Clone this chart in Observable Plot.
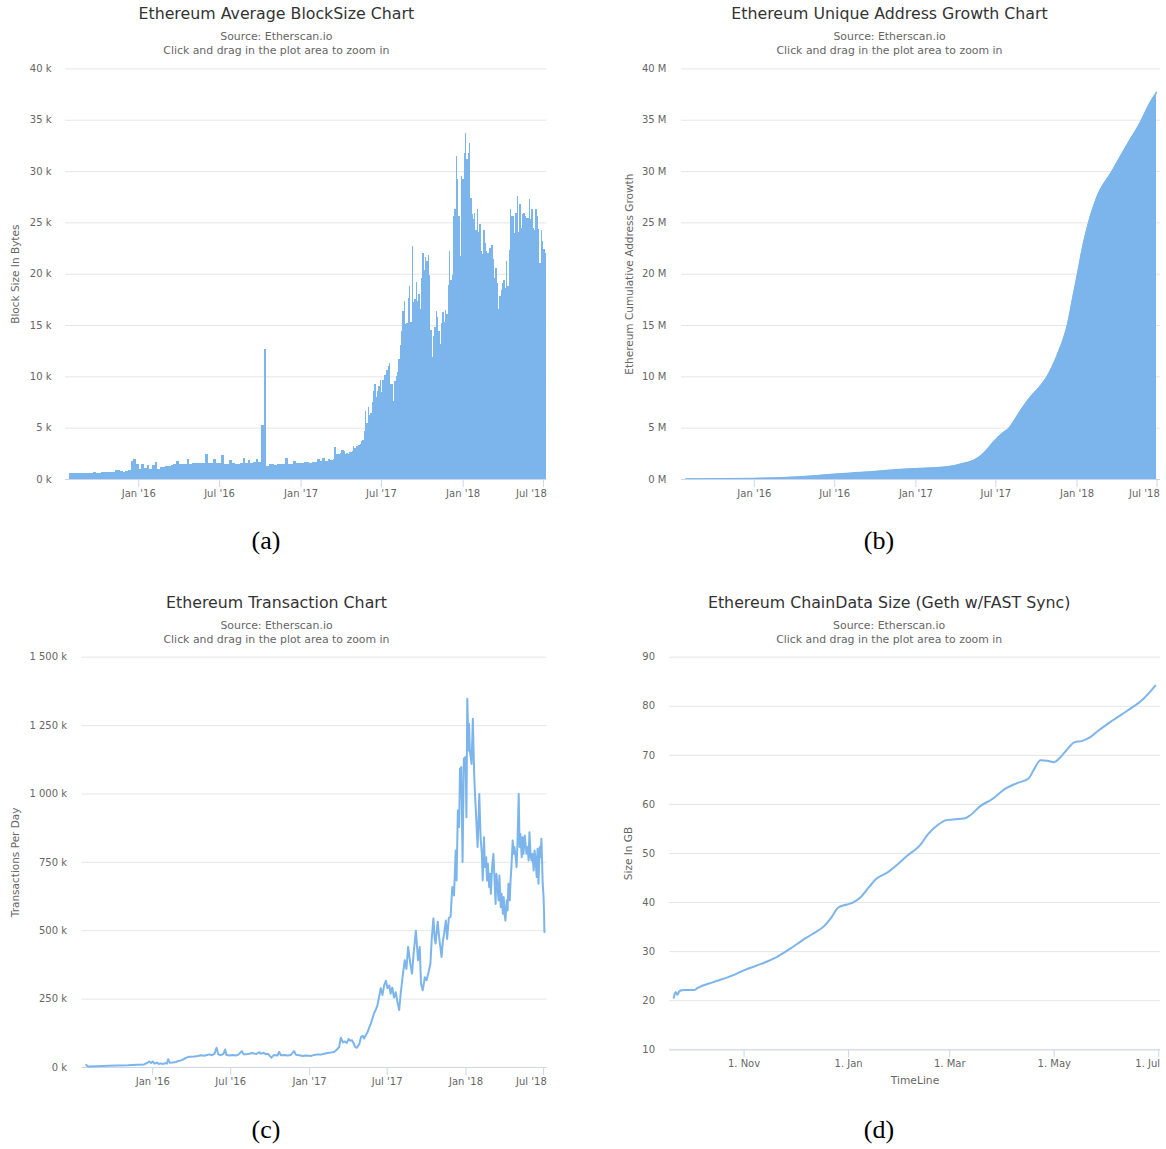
<!DOCTYPE html>
<html><head><meta charset="utf-8">
<script src="https://cdn.jsdelivr.net/npm/d3@7"></script>
<script src="https://cdn.jsdelivr.net/npm/@observablehq/plot@0.6"></script>
<style>
html,body{margin:0;padding:0;background:#fff}
body{width:1166px;height:1149px;position:relative;overflow:hidden;font-family:"DejaVu Sans",sans-serif}
.abs{position:absolute;transform:translate(-50%,-50%);white-space:nowrap;line-height:1}
.ttl{color:#333;font-size:15.8px}
.sub{color:#666;font-size:10.9px}
.cap{font-family:"Liberation Serif",serif;font-size:26px;color:#000}
.panel{position:absolute}
.panel svg{overflow:hidden}
</style></head><body>
<script>
// ---------- data ----------
// (a) average block size, k bytes; early part 6-day bars from 2015-07-30, late part 3-day bars from 2017-03-09
const blockEarlyStart = "2015-07-30", blockEarlyStep = 6;
const blockEarly = [
0.59,0.59,0.62,0.62,0.62,0.62,0.63,0.63,0.63,0.72,
0.62,0.62,0.72,0.72,0.72,0.72,0.73,0.9,0.85,0.75,
0.72,0.78,0.85,1.75,1.95,1.45,0.95,1.5,1.05,1.4,
0.95,1.4,1.7,1.0,1.2,1.15,1.3,1.3,1.35,1.5,
1.76,1.5,1.45,1.45,1.9,1.5,1.55,1.6,1.6,1.55,
1.6,2.4,1.55,1.6,1.95,1.55,1.6,2.3,1.45,1.5,
1.85,1.55,1.5,1.5,1.55,2.0,1.6,1.85,1.6,1.65,
1.95,1.65,5.3,12.7,1.27,1.5,1.5,1.4,1.45,1.5,
1.45,2.0,1.5,1.5,1.8,1.55,1.6,1.6,1.65,1.65,
1.6,1.65,1.7,1.9,1.75,2.0,1.75,1.95];
const blockLateStart = "2017-03-09", blockLateStep = 3;
const blockLate = [
1.86,1.86,1.9,3.1,2.45,2.45,2.4,2.5,2.84,2.8,
2.7,2.45,2.5,2.4,2.6,2.6,2.7,3.2,3.0,3.26,
3.2,3.3,3.4,3.75,3.8,4.7,6.6,5.5,7.0,6.2,
6.4,7.5,8.6,9.3,8.0,8.6,9.1,9.6,8.5,9.6,
10.1,10.1,10.6,11.0,11.3,9.3,9.3,7.6,9.5,10.0,
10.4,11.7,13.1,14.4,16.4,17.3,15.1,15.2,17.6,18.8,
15.3,22.7,17.2,17.5,19.2,17.3,18.0,16.6,19.6,22.0,
20.4,21.6,21.2,21.8,19.9,14.5,11.9,13.9,14.8,16.4,
15.8,14.4,13.2,15.2,16.3,15.3,16.5,16.1,18.9,22.2,
19.4,19.9,25.6,26.3,31.5,29.2,25.6,21.7,29.5,29.2,
31.8,33.7,31.2,31.8,32.7,27.4,25.8,25.3,25.9,24.3,
26.3,24.1,24.8,22.2,21.9,24.3,23.0,22.2,22.0,22.5,
22.5,22.8,21.4,19.6,20.6,19.1,16.6,17.8,18.4,19.1,
19.4,18.6,21.2,18.8,22.3,26.3,25.6,25.6,24.0,25.9,
27.6,24.1,26.8,24.5,25.8,25.9,25.6,25.4,25.4,27.3,
25.3,26.3,24.5,24.3,26.3,25.6,24.4,21.0,24.3,23.2,
22.4,22.0];
const blockTicks = [0,5,10,15,20,25,30,35,40];

// (b) cumulative unique addresses, millions: [days after 2015-07-30, value]
const addrBase = "2015-07-30";
const addrSeries = [[0,0.05],[155,0.1],[230,0.2],[289,0.35],[337,0.5],[373,0.62],[423,0.75],[449,0.85],
[518,1.05],[583,1.2],[608,1.35],[633,1.6],[654,1.9],[671,2.4],[684,3.0],[700,3.8],[717,4.5],[732,5.0],
[742,5.6],[755,6.5],[776,7.8],[801,9.0],[818,10.0],[843,12.3],[856,13.8],[864,15],[875,17.4],[887,20],
[899,22.7],[912,25],[931,27.5],[965,30],[998,32.5],[1032,35],[1049,36.5],[1066,37.7]];
const addrTicks = [0,5,10,15,20,25,30,35,40];

// (c) transactions per day, thousands: [days after 2015-07-30, value]
const txBase = "2015-07-30";
const txSeries = [[0,10],[3,4],[27,5],[50,6],[73,7],[97,8],[120,10],[135,11],[143,18],[147,22],[151,16],[155,22],
[159,14],[165,18],[169,13],[174,15],[180,13],[184,16],[188,14],[191,30],[195,17],[202,18],[209,20],[215,24],
[221,26],[227,30],[233,36],[240,39],[252,40],[260,42],[268,45],[275,43],[282,46],[287,48],[293,45],[299,50],
[304,72],[308,48],[314,45],[320,50],[324,66],[327,46],[334,44],[341,46],[349,44],[355,47],[363,60],[367,48],
[372,48],[380,50],[388,53],[396,49],[404,56],[407,50],[414,54],[419,48],[424,50],[432,36],[438,46],[446,44],
[450,57],[454,45],[462,46],[470,44],[477,46],[485,60],[489,47],[497,45],[505,42],[512,44],[524,42],[532,46],
[540,48],[547,47],[555,50],[563,53],[571,55],[578,57],[585,66],[590,75],[594,109],[599,92],[603,95],[608,90],
[612,104],[616,98],[620,100],[624,88],[627,76],[631,72],[637,85],[641,112],[645,116],[648,106],[652,118],
[656,128],[660,146],[664,160],[668,182],[672,200],[676,213],[679,225],[683,256],[687,290],[691,265],[695,300],
[699,317],[703,290],[707,300],[710,270],[714,292],[718,256],[722,275],[726,240],[730,210],[734,276],[738,330],
[743,392],[747,360],[751,441],[756,380],[760,343],[764,420],[769,500],[774,392],[778,441],[781,307],[785,282],
[790,330],[794,319],[799,350],[803,380],[806,470],[810,545],[813,470],[815,453],[820,533],[823,480],[829,404],
[832,460],[835,490],[839,537],[842,470],[846,548],[850,550],[854,660],[858,629],[862,793],[864,684],[867,940],
[870,879],[872,1092],[875,1098],[878,751],[881,1129],[885,1135],[887,915],[889,1348],[892,1159],[893,1257],
[895,1159],[899,1110],[902,1275],[905,1074],[907,1000],[909,940],[913,806],[915,891],[917,1000],[920,842],
[923,781],[925,684],[928,842],[930,733],[933,769],[935,684],[937,745],[940,660],[942,708],[944,635],[947,733],
[950,781],[952,708],[955,598],[957,708],[959,672],[962,611],[964,702],[967,586],[969,635],[972,562],[974,623],
[976,562],[978,537],[981,611],[983,574],[985,672],[988,611],[990,684],[992,733],[995,830],[997,781],[999,806],
[1002,769],[1004,733],[1006,818],[1009,1000],[1011,806],[1013,854],[1016,769],[1018,842],[1020,781],[1023,848],
[1025,818],[1027,781],[1030,806],[1032,757],[1034,860],[1037,769],[1039,757],[1041,781],[1044,720],[1046,793],
[1048,769],[1051,696],[1053,800],[1055,672],[1058,806],[1060,769],[1062,836],[1065,672],[1067,623],[1068,574],[1069,495]];
const txTicks = [0,250,500,750,1000,1250,1500];

// (d) chain data size, GB: [days after 2017-11-01, value]
const chainBase = "2017-11-01";
const chainSeries = [[-41,20.6],[-40,21.8],[-39,21.2],[-38,21.8],[-37,22.1],[-35,22.2],[-29,22.2],[-27,22.6],
[-18,23.8],[-7,25.1],[0,26.2],[10,27.5],[19,28.9],[27,30.6],[34,32.3],[40,33.6],[47,35.3],[51,37.0],[55,39.0],
[60,39.6],[64,40.1],[68,41.1],[73,43.2],[77,44.8],[84,46.2],[90,47.9],[95,49.5],[103,51.8],[107,53.8],[113,55.8],
[118,56.8],[129,57.2],[132,57.8],[138,59.7],[144,60.9],[153,63.3],[159,64.3],[166,65.3],[169,67.0],[173,69.0],
[177,68.9],[181,68.6],[184,69.4],[188,71.0],[193,72.7],[197,72.9],[202,73.7],[207,75.1],[215,77.1],[224,79.2],
[233,81.5],[240,84.2]];
const chainTicks = [10,20,30,40,50,60,70,80,90];

// x tick labels
const yearTickDates = ["2016-01-01","2016-07-01","2017-01-01","2017-07-01","2018-01-01","2018-07-01"];
const yearTickLabels = ["Jan '16","Jul '16","Jan '17","Jul '17","Jan '18","Jul '18"];
const chainTickDates = ["2017-11-01","2018-01-01","2018-03-01","2018-05-01","2018-07-01"];
const chainTickLabels = ["1. Nov","1. Jan","1. Mar","1. May","1. Jul"];

// ---------- helpers ----------
const parse = s => new Date(s + "T00:00:00Z");
const addDays = (base, n) => new Date(parse(base).getTime() + n * 864e5);
const BLUE = "#7cb5ec", GRID = "#e6e6e6", AXIS = "#ccd6eb", LAB = "#666";
const fontStyle = {fontFamily: '"DejaVu Sans", sans-serif', fontSize: "10px", background: "white", overflow: "hidden"};

function xAxisMarks(dates, labels, dxLast) {
  const ds = dates.map(parse);
  const lab = new Map(ds.map((d, i) => [+d, labels[i]]));
  const last = ds[ds.length - 1];
  return [
    Plot.axisX(ds, {tickSize: 8, tickPadding: 2, stroke: AXIS, fill: LAB, fontSize: 10, label: null,
      tickFormat: d => (+d === +last ? "" : lab.get(+d))}),
    Plot.text([last], {x: d => d, frameAnchor: "bottom", lineAnchor: "top", dy: 10, dx: dxLast,
      textAnchor: "end", fill: LAB, fontSize: 10, text: () => labels[labels.length - 1]})
  ];
}
function yTitle(text, dx) {
  return Plot.text([text], {frameAnchor: "left", dx, rotate: -90, textAnchor: "middle", lineAnchor: "middle",
    fill: LAB, fontSize: 10.5, text: d => d});
}
function place(svg, left, top) {
  const w = document.createElement("div");
  w.className = "panel"; w.style.left = left + "px"; w.style.top = top + "px";
  w.appendChild(svg); document.body.appendChild(w);
}
function label(text, cx, cy, cls) {
  const d = document.createElement("div");
  d.className = "abs " + cls; d.textContent = text;
  d.style.left = cx + "px"; d.style.top = cy + "px";
  document.body.appendChild(d);
}
const longDomain = [parse("2015-07-20"), parse("2018-07-09")];

// ---------- (a) ----------
const blockRows = [];
blockEarly.forEach((v, i) => blockRows.push({x1: addDays(blockEarlyStart, i * blockEarlyStep), x2: addDays(blockEarlyStart, (i + 1) * blockEarlyStep), v}));
blockLate.forEach((v, i) => blockRows.push({x1: addDays(blockLateStart, i * blockLateStep), x2: addDays(blockLateStart, (i + 1) * blockLateStep), v}));
place(Plot.plot({
  width: 583, height: 455, marginTop: 8.4, marginLeft: 65, marginRight: 36.5, marginBottom: 36,
  style: fontStyle,
  x: {type: "utc", domain: longDomain},
  y: {domain: [0, 40]},
  marks: [
    Plot.gridY(blockTicks, {stroke: GRID, strokeOpacity: 1}),
    Plot.rectY(blockRows, {x1: "x1", x2: "x2", y: "v", fill: BLUE, shapeRendering: "crispEdges"}),
    Plot.ruleY([0], {stroke: AXIS}),
    Plot.axisY(blockTicks, {tickSize: 0, tickPadding: 14, fill: LAB, fontSize: 10, label: null, tickFormat: d => d + " k"}),
    ...xAxisMarks(yearTickDates, yearTickLabels, 3.3),
    yTitle("Block Size In Bytes", -49.4)
  ]
}), 0, 60);

// ---------- (b) ----------
const addrRows = addrSeries.map(([d, v]) => ({date: addDays(addrBase, d), v}));
place(Plot.plot({
  width: 583, height: 455, marginTop: 8.4, marginLeft: 98, marginRight: 6, marginBottom: 36,
  style: fontStyle,
  x: {type: "utc", domain: longDomain},
  y: {domain: [0, 40]},
  marks: [
    Plot.gridY(addrTicks, {stroke: GRID, strokeOpacity: 1}),
    Plot.areaY(addrRows, {x: "date", y: "v", fill: BLUE, curve: "monotone-x"}),
    Plot.lineY(addrRows, {x: "date", y: "v", stroke: BLUE, strokeWidth: 1.5, curve: "monotone-x"}),
    Plot.ruleY([0], {stroke: AXIS}),
    Plot.axisY(addrTicks, {tickSize: 0, tickPadding: 15, fill: LAB, fontSize: 10, label: null, tickFormat: d => d + " M"}),
    ...xAxisMarks(yearTickDates, yearTickLabels, 2.8),
    yTitle("Ethereum Cumulative Address Growth", -51.7)
  ]
}), 583, 60);

// ---------- (c) ----------
const txRows = txSeries.map(([d, v]) => ({date: addDays(txBase, d), v}));
place(Plot.plot({
  width: 583, height: 455, marginTop: 8.7, marginLeft: 81.5, marginRight: 36.5, marginBottom: 36,
  style: fontStyle,
  x: {type: "utc", domain: longDomain},
  y: {domain: [0, 1500]},
  marks: [
    Plot.gridY(txTicks, {stroke: GRID, strokeOpacity: 1}),
    Plot.ruleY([0], {stroke: AXIS}),
    Plot.lineY(txRows, {x: "date", y: "v", stroke: BLUE, strokeWidth: 2, strokeLinejoin: "round"}),
    Plot.axisY(txTicks, {tickSize: 0, tickPadding: 15, fill: LAB, fontSize: 10, label: null,
      tickFormat: d => d3.format(",")(d).replace(/,/g, " ") + " k"}),
    ...xAxisMarks(yearTickDates, yearTickLabels, 3.2),
    yTitle("Transactions Per Day", -66)
  ]
}), 0, 648);

// ---------- (d) ----------
const chainRows = chainSeries.map(([d, v]) => ({date: addDays(chainBase, d), v}));
place(Plot.plot({
  width: 583, height: 445, marginTop: 8.7, marginLeft: 86, marginRight: 6, marginBottom: 43.7,
  style: fontStyle,
  x: {type: "utc", domain: [new Date("2017-09-18T12:00:00Z"), parse("2018-07-02")]},
  y: {domain: [10, 90]},
  marks: [
    Plot.gridY(chainTicks, {stroke: GRID, strokeOpacity: 1}),
    Plot.ruleY([10], {stroke: AXIS}),
    Plot.lineY(chainRows, {x: "date", y: "v", stroke: BLUE, strokeWidth: 2, curve: "monotone-x"}),
    Plot.axisY(chainTicks, {tickSize: 0, tickPadding: 14.5, fill: LAB, fontSize: 10, label: null}),
    ...xAxisMarks(chainTickDates, chainTickLabels, 1.3),
    yTitle("Size In GB", -40.8),
    Plot.text(["TimeLine"], {frameAnchor: "bottom", dy: 30.7, textAnchor: "middle", lineAnchor: "middle",
      fill: LAB, fontSize: 10.7, text: d => d})
  ]
}), 583, 648);

// ---------- titles, subtitles, captions ----------
const titles = ["Ethereum Average BlockSize Chart", "Ethereum Unique Address Growth Chart",
  "Ethereum Transaction Chart", "Ethereum ChainData Size (Geth w/FAST Sync)"];
const subtitle1 = "Source: Etherscan.io";
const subtitle2 = "Click and drag in the plot area to zoom in";
const captions = ["(a)", "(b)", "(c)", "(d)"];
const centersX = [276.3, 889.5, 276.5, 889.2];
const topY = [0, 0, 589, 589];
titles.forEach((t, i) => {
  label(t, centersX[i], topY[i] + 14.3, "ttl");
  label(subtitle1, centersX[i], topY[i] + 37, "sub");
  label(subtitle2, centersX[i], topY[i] + 51, "sub");
});
[[266, 541], [879, 541], [266, 1130], [879, 1130]].forEach(([x, y], i) => label(captions[i], x, y, "cap"));
</script>
</body></html>
